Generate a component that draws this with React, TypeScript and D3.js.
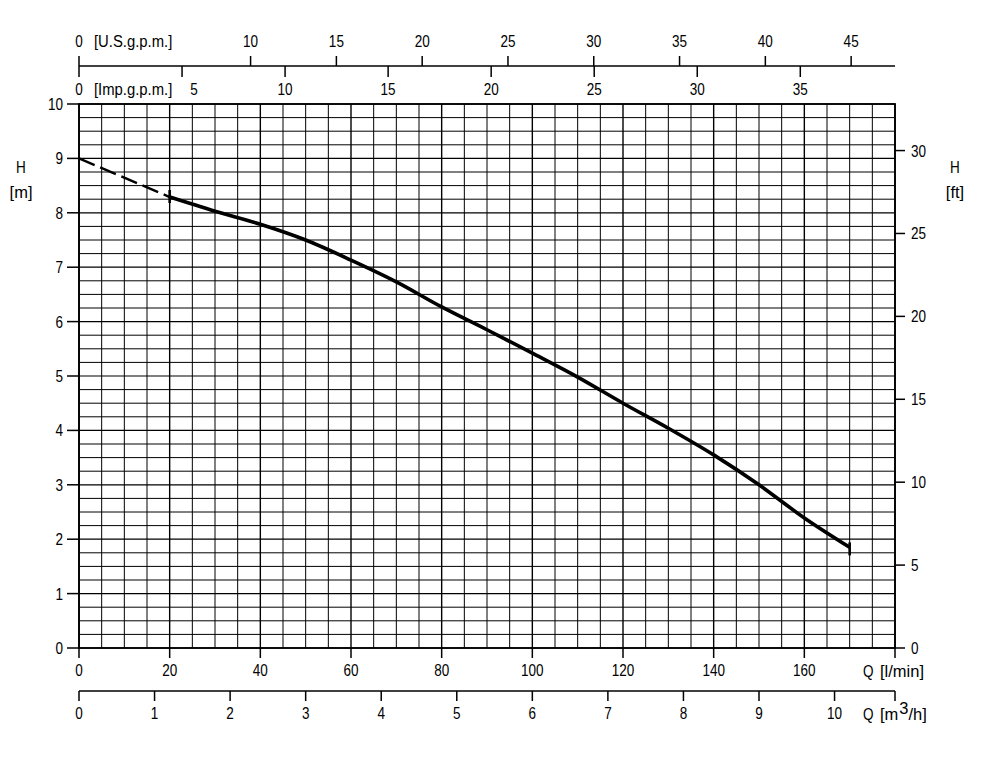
import React from "react";
import * as d3 from "d3";

// ---- data ----
const dashedFlow = [0, 20];
const dashedHead = [9.0, 8.29];
const flowLmin = [20, 30, 40, 50, 60, 70, 80, 90, 100, 110, 120, 130, 140, 150, 160, 170];
const headM = [8.29, 8.03, 7.79, 7.5, 7.13, 6.73, 6.27, 5.85, 5.42, 4.98, 4.5, 4.04, 3.55, 3.0, 2.39, 1.85];

const lminTicks = [0, 20, 40, 60, 80, 100, 120, 140, 160];
const m3hTicks = [0, 1, 2, 3, 4, 5, 6, 7, 8, 9, 10];
const usTicks = [0, 10, 15, 20, 25, 30, 35, 40, 45];
const impTicks = [0, 5, 10, 15, 20, 25, 30, 35];
const mTicks = [0, 1, 2, 3, 4, 5, 6, 7, 8, 9, 10];
const ftTicks = [0, 5, 10, 15, 20, 25, 30];

const Q_MAX = 180;
const H_MAX = 10;
const US_GAL = 3.785;
const IMP_GAL = 4.546;
const FT = 0.3048;

const FONT = "'Liberation Sans', Arial, sans-serif";

type TProps = {
  x: number; y: number; anchor?: "start" | "middle" | "end";
  children: React.ReactNode; size?: number; sx?: number;
};
function T({ x, y, anchor = "start", children, size = 16.5, sx = 0.82 }: TProps) {
  return (
    <text
      transform={`translate(${x},${y}) scale(${sx},1)`}
      textAnchor={anchor}
      fontFamily={FONT}
      fontSize={size}
      fill="#000"
    >
      {children}
    </text>
  );
}

export default function App() {
  const W = 987, H = 766;
  const x = d3.scaleLinear().domain([0, Q_MAX]).range([79, 895]);
  const y = d3.scaleLinear().domain([0, H_MAX]).range([648, 104]);
  const xUS = d3.scaleLinear().domain([0, Q_MAX / US_GAL]).range([79, 895]);
  const xImp = d3.scaleLinear().domain([0, Q_MAX / IMP_GAL]).range([79, 895]);
  const xM3 = d3.scaleLinear().domain([0, (Q_MAX * 60) / 1000]).range([79, 895]);
  const yFt = d3.scaleLinear().domain([0, H_MAX / FT]).range([648, 104]);

  const vLines = d3.range(0, Q_MAX + 0.01, 5);
  const hLines = d3.range(0, H_MAX + 0.001, 0.25);

  const solid = d3
    .line<number>()
    .x((_, i) => x(flowLmin[i]))
    .y((d) => y(d))
    .curve(d3.curveMonotoneX)(headM) as string;
  const dashed = d3
    .line<number>()
    .x((_, i) => x(dashedFlow[i]))
    .y((d) => y(d))(dashedHead) as string;

  const first = { x: x(flowLmin[0]), y: y(headM[0]) };
  const last = { x: x(flowLmin[flowLmin.length - 1]), y: y(headM[headM.length - 1]) };

  const axisY = 66;
  const m3Y = 691;

  return (
    <svg width={W} height={H} style={{ position: "absolute", left: 0, top: 0, background: "#fff" }}>
      <rect x={0} y={0} width={W} height={H} fill="#fff" />
      {/* grid */}
      {vLines.map((v) => (
        <line key={"v" + v} x1={x(v)} x2={x(v)} y1={y(0)} y2={y(H_MAX)} stroke="#000"
          strokeWidth={v % 20 === 0 ? 1.4 : 1} />
      ))}
      {hLines.map((v) => (
        <line key={"h" + v} x1={x(0)} x2={x(Q_MAX)} y1={y(v)} y2={y(v)} stroke="#000"
          strokeWidth={Math.abs(v - Math.round(v)) < 1e-6 ? 1.2 : 1} />
      ))}
      <rect x={x(0)} y={y(H_MAX)} width={x(Q_MAX) - x(0)} height={y(0) - y(H_MAX)} fill="none" stroke="#000" strokeWidth={1.8} />

      {/* curve */}
      <path d={dashed} fill="none" stroke="#000" strokeWidth={2.4} strokeDasharray="17,6" />
      <path d={solid} fill="none" stroke="#000" strokeWidth={3.6} strokeLinejoin="round" />
      <line x1={first.x} x2={first.x} y1={first.y - 7} y2={first.y + 6} stroke="#000" strokeWidth={2.6} />
      <line x1={last.x} x2={last.x} y1={last.y - 5} y2={last.y + 8} stroke="#000" strokeWidth={2.6} />

      {/* left axis (m) */}
      {mTicks.map((t) => (
        <g key={"m" + t}>
          <line x1={67} x2={x(0)} y1={y(t)} y2={y(t)} stroke="#000" strokeWidth={1.5} />
          <T x={63} y={y(t) + 6} anchor="end">{t}</T>
        </g>
      ))}
      <T x={21} y={173} anchor="middle">H</T>
      <T x={21} y={198} anchor="middle" sx={1}>[m]</T>

      {/* right axis (ft) */}
      {ftTicks.map((t) => (
        <g key={"ft" + t}>
          <line x1={x(Q_MAX)} x2={905} y1={yFt(t)} y2={yFt(t)} stroke="#000" strokeWidth={1.5} />
          <T x={911} y={yFt(t) + 6}>{t}</T>
        </g>
      ))}
      <T x={955} y={173} anchor="middle">H</T>
      <T x={955} y={198} anchor="middle" sx={1}>[ft]</T>

      {/* bottom axis l/min */}
      {[...lminTicks, Q_MAX].map((t) => (
        <line key={"lt" + t} x1={x(t)} x2={x(t)} y1={y(0)} y2={658} stroke="#000" strokeWidth={1.5} />
      ))}
      {lminTicks.map((t) => (
        <T key={"ll" + t} x={x(t)} y={676} anchor="middle">{t}</T>
      ))}
      <T x={863} y={677}>Q</T>
      <T x={880} y={677} sx={1}>[l/min]</T>

      {/* bottom axis m3/h */}
      <line x1={x(0)} x2={x(Q_MAX)} y1={m3Y} y2={m3Y} stroke="#000" strokeWidth={1.5} />
      {[...m3hTicks, xM3.domain()[1]].map((t) => (
        <line key={"mt" + t} x1={xM3(t)} x2={xM3(t)} y1={m3Y} y2={701} stroke="#000" strokeWidth={1.5} />
      ))}
      {m3hTicks.map((t) => (
        <T key={"ml" + t} x={xM3(t)} y={719} anchor="middle">{t}</T>
      ))}
      <T x={863} y={720}>Q</T>
      <T x={880} y={720} sx={1}>
        [m<tspan dx={1} dy={-6}>3</tspan><tspan dy={6}>/h]</tspan>
      </T>

      {/* top axes */}
      <line x1={x(0)} x2={x(Q_MAX)} y1={axisY} y2={axisY} stroke="#000" strokeWidth={1.5} />
      {usTicks.map((t) => (
        <g key={"us" + t}>
          <line x1={xUS(t)} x2={xUS(t)} y1={axisY} y2={56} stroke="#000" strokeWidth={1.5} />
          <T x={xUS(t)} y={47} anchor="middle">{t}</T>
        </g>
      ))}
      <T x={94} y={47} sx={0.9}>[U.S.g.p.m.]</T>
      {impTicks.map((t) => (
        <g key={"imp" + t}>
          <line x1={xImp(t)} x2={xImp(t)} y1={axisY} y2={77} stroke="#000" strokeWidth={1.5} />
          <T x={xImp(t) + (t === 5 ? 12 : 0)} y={95} anchor="middle">{t}</T>
        </g>
      ))}
      <T x={94} y={95} sx={0.9}>[Imp.g.p.m.]</T>
    </svg>
  );
}
